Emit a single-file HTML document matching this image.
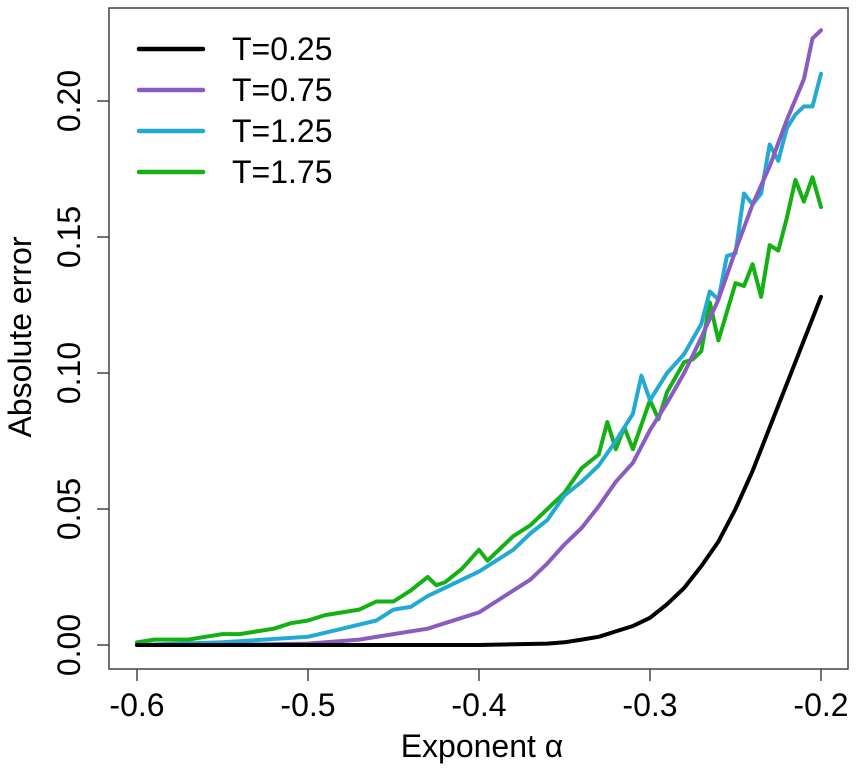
<!DOCTYPE html>
<html><head><meta charset="utf-8"><style>
body{margin:0;background:#fff}
svg{display:block;font-family:"Liberation Sans",sans-serif}
</style></head><body>
<svg id="chart" width="858" height="768" xmlns="http://www.w3.org/2000/svg"></svg>
<script>
const xTicks=[-0.6,-0.5,-0.4,-0.3,-0.2];
const xTickLabels=["-0.6","-0.5","-0.4","-0.3","-0.2"];
const yTicks=[0,0.05,0.10,0.15,0.20];
const yTickLabels=["0.00","0.05","0.10","0.15","0.20"];
const seriesNames=["T=0.25","T=0.75","T=1.25","T=1.75"];
const seriesColors=["#000000","#8a5cc2","#22aad4","#14b014"];
const xBlack=[-0.6,-0.5,-0.4,-0.36,-0.35,-0.34,-0.33,-0.32,-0.31,-0.30,-0.29,-0.28,-0.27,-0.26,-0.25,-0.24,-0.23,-0.22,-0.21,-0.20];
const yBlack=[0,0,0,0.0005,0.001,0.002,0.003,0.005,0.007,0.010,0.015,0.021,0.029,0.038,0.05,0.064,0.08,0.096,0.112,0.128];
const xPurple=[-0.6,-0.55,-0.5,-0.47,-0.45,-0.43,-0.42,-0.41,-0.40,-0.39,-0.38,-0.37,-0.36,-0.35,-0.34,-0.33,-0.32,-0.31,-0.30,-0.29,-0.28,-0.27,-0.26,-0.25,-0.24,-0.23,-0.22,-0.21,-0.205,-0.20];
const yPurple=[0,0,0.0005,0.002,0.004,0.006,0.008,0.010,0.012,0.016,0.02,0.024,0.03,0.037,0.043,0.051,0.06,0.067,0.079,0.089,0.1,0.113,0.127,0.145,0.162,0.176,0.193,0.208,0.223,0.226];
const xCyan=[-0.6,-0.55,-0.5,-0.48,-0.46,-0.45,-0.44,-0.43,-0.42,-0.41,-0.40,-0.39,-0.38,-0.37,-0.36,-0.35,-0.34,-0.33,-0.32,-0.31,-0.305,-0.30,-0.29,-0.28,-0.27,-0.265,-0.26,-0.255,-0.25,-0.245,-0.24,-0.235,-0.23,-0.225,-0.22,-0.215,-0.21,-0.205,-0.20];
const yCyan=[0,0.001,0.003,0.006,0.009,0.013,0.014,0.018,0.021,0.024,0.027,0.031,0.035,0.041,0.046,0.055,0.06,0.066,0.075,0.085,0.099,0.090,0.1,0.107,0.118,0.13,0.127,0.143,0.144,0.166,0.162,0.166,0.184,0.178,0.19,0.195,0.198,0.198,0.21];
const xGreen=[-0.6,-0.59,-0.58,-0.57,-0.56,-0.55,-0.54,-0.53,-0.52,-0.51,-0.50,-0.49,-0.48,-0.47,-0.46,-0.45,-0.44,-0.43,-0.425,-0.42,-0.41,-0.40,-0.395,-0.39,-0.38,-0.37,-0.36,-0.35,-0.34,-0.33,-0.325,-0.32,-0.315,-0.31,-0.30,-0.295,-0.29,-0.28,-0.275,-0.27,-0.265,-0.26,-0.25,-0.245,-0.24,-0.235,-0.23,-0.225,-0.22,-0.215,-0.21,-0.205,-0.20];
const yGreen=[0.001,0.002,0.002,0.002,0.003,0.004,0.004,0.005,0.006,0.008,0.009,0.011,0.012,0.013,0.016,0.016,0.02,0.025,0.022,0.023,0.028,0.035,0.031,0.034,0.04,0.044,0.05,0.056,0.065,0.07,0.082,0.072,0.08,0.072,0.09,0.083,0.093,0.104,0.105,0.108,0.126,0.112,0.133,0.132,0.14,0.128,0.147,0.145,0.157,0.171,0.163,0.172,0.161];
const xData=[xBlack,xPurple,xCyan,xGreen];
const yData=[yBlack,yPurple,yCyan,yGreen];

const svg=document.getElementById('chart');
const NS="http://www.w3.org/2000/svg";
const X=v=>137+(v+0.6)/0.4*684;
const Y=v=>645-v*2720;
function mk(tag,attrs,parent){const e=document.createElementNS(NS,tag);for(const k in attrs)e.setAttribute(k,attrs[k]);(parent||svg).appendChild(e);return e;}

const box=mk('rect',{x:109,y:8,width:739,height:661,fill:'none',stroke:'#444','stroke-width':1.5});



xTicks.forEach((t,i)=>{
  const l=mk('line',{x1:X(t),x2:X(t),y1:669,y2:681,stroke:'#444','stroke-width':1.5});
  
  
  const tx=mk('text',{x:X(t),y:716,'font-size':32,'text-anchor':'middle',fill:'#000'});
  tx.textContent=xTickLabels[i];
  
  
});
yTicks.forEach((t,i)=>{
  const l=mk('line',{x1:97,x2:109,y1:Y(t),y2:Y(t),stroke:'#444','stroke-width':1.5});
  
  
  const tx=mk('text',{x:0,y:0,'font-size':32,'text-anchor':'middle',fill:'#000',transform:`translate(80,${Y(t)}) rotate(-90)`});
  tx.textContent=yTickLabels[i];
  
  
});
const xt=mk('text',{x:482,y:757,'font-size':32,'text-anchor':'middle',fill:'#000'});
xt.textContent='Exponent α';


const yt=mk('text',{x:0,y:0,'font-size':32,'text-anchor':'middle',fill:'#000',transform:'translate(31,337) rotate(-90)'});
yt.textContent='Absolute error';



[3,2,1,0].forEach(s=>{
  const pts=xData[s].map((x,i)=>X(x).toFixed(1)+','+Y(yData[s][i]).toFixed(1)).join(' ');
  const p=mk('polyline',{points:pts,fill:'none',stroke:seriesColors[s],'stroke-width':4,'stroke-linejoin':'round','stroke-linecap':'round'});
  
  
});

seriesNames.forEach((n,i)=>{
  const y=49+i*41;
  const l=mk('line',{x1:139,x2:203,y1:y,y2:y,stroke:seriesColors[i],'stroke-width':4.5,'stroke-linecap':'round'});
  
  
  const t=mk('text',{x:232,y:y+11,'font-size':32,fill:'#000'});
  t.textContent=n;
  
  
});
</script>
</body></html>
